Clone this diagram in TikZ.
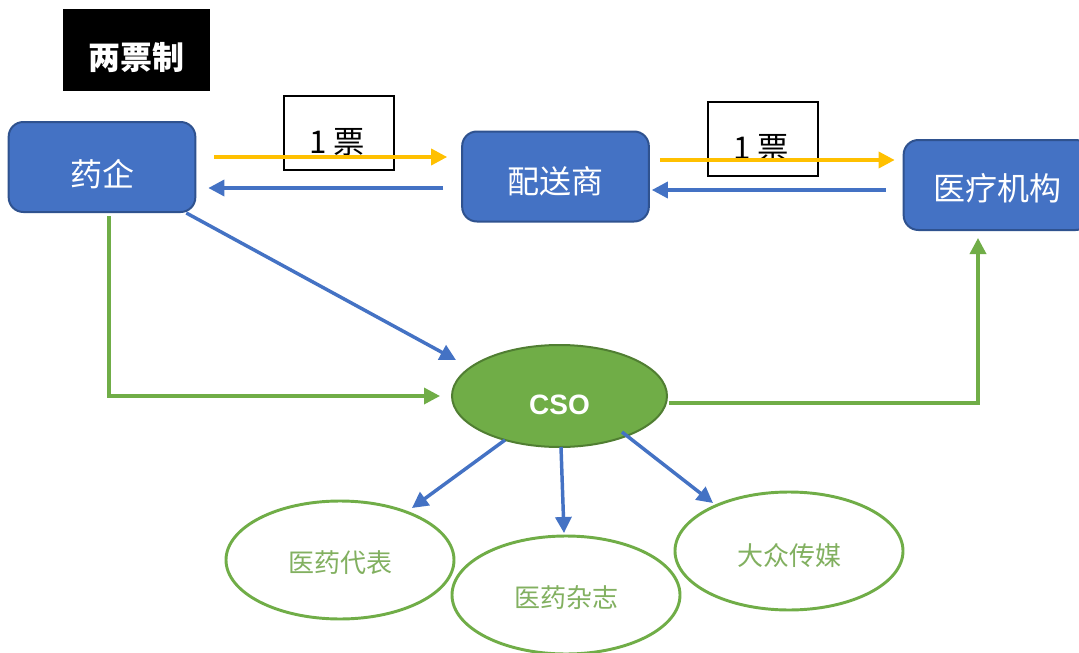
\documentclass[tikz,border=0pt]{standalone}
\usepackage{fontspec}
\newfontfamily\cjk{Noto Sans CJK SC}
\newfontfamily\lsans{Liberation Sans}
\usetikzlibrary{arrows.meta,shapes.geometric,calc}
\definecolor{pblue}{HTML}{4472C4}
\definecolor{pbluedark}{HTML}{2F528F}
\definecolor{pgreen}{HTML}{70AD47}
\definecolor{pgreendark}{HTML}{507E32}
\definecolor{pyellow}{HTML}{FFC000}
\definecolor{ptext}{HTML}{82B060}
\begin{document}
\begin{tikzpicture}[x=0.75pt,y=-0.75pt,
  bluebox/.style={draw=pbluedark,line width=1.5pt,fill=pblue,rounded corners=11pt,
    text=white,font=\cjk\fontsize{24}{26}\selectfont,inner sep=0pt,text depth=0pt,
    minimum width=140pt,minimum height=67.5pt},
  titlebox/.style={fill=black,text=white,font=\cjk\bfseries\fontsize{24}{26}\selectfont,
    inner sep=0pt,text depth=0pt,text height=28.8pt,
    minimum width=110.25pt,minimum height=61.5pt},
  ticketbox/.style={draw=black,line width=2pt,inner sep=0pt,
    minimum width=82.5pt,minimum height=55.5pt},
  ticketlabel/.style={font=\cjk\fontsize{23.5}{26}\selectfont,text=black},
  csonode/.style={ellipse,draw=pgreendark,line width=1.5pt,fill=pgreen,inner sep=0pt,
    minimum width=161.25pt,minimum height=76.5pt},
  leaf/.style={ellipse,draw=pgreen,line width=2.2pt,fill=white,inner sep=0pt,
    text=ptext,font=\cjk\fontsize{19.5}{22}\selectfont,text depth=0pt,text height=19pt,
    minimum width=171pt,minimum height=88.5pt},
  arr/.style={line width=2.6pt,-{Triangle[length=12pt,width=12pt]}},
  yarr/.style={arr,draw=pyellow},
  barr/.style={arr,draw=pblue},
  garr/.style={arr,draw=pgreen},
]
\useasboundingbox[fill=white] (0,0) rectangle (1079,653);

% title
\node[titlebox] (title) at (136.5,50) {两票制};

% main boxes
\node[bluebox,text height=29.8pt] (yq)  at (102,167)   {药企};
\node[bluebox,text height=25.3pt] (pss) at (555.5,176.5) {配送商};
\node[bluebox,text height=23.8pt] (ylj) at (997,185)   {医疗机构};

% ticket boxes
\node[ticketbox,label={[ticketlabel,yshift=-7pt,xshift=-1.5pt,name=t1l]center:1 票}] (t1) at (339,133) {};
\node[ticketbox,label={[ticketlabel,yshift=-7pt,xshift=-1.5pt,name=t2l]center:1 票}] (t2) at (763,139) {};

% CSO
\node[csonode,label={[font=\lsans\bfseries\fontsize{21}{24}\selectfont,text=white,yshift=-6.5pt,name=csol]center:CSO}] (cso) at (559.5,396) {};

% leaves
\node[leaf] (e1) at (340,560) {医药代表};
\node[leaf,text height=18pt] (e2) at (566,595) {医药杂志};
\node[leaf,text height=21pt] (e3) at (789,551) {大众传媒};

% top arrows
\draw[yarr] ($(yq.east)+(18,-10)$) -- ($(pss.west)+(-14,-19.5)$);
\draw[barr] ($(pss.west)+(-18,11.5)$) -- ($(yq.east)+(12,21)$);
\draw[yarr] ($(pss.east)+(10,-16.5)$) -- ($(ylj.west)+(-8,-25)$);
\draw[barr] ($(ylj.west)+(-17,5)$) -- ($(pss.east)+(2,13.5)$);

% to CSO
\draw[barr] ($(yq.south east)+(-10,0)$) -- ($(cso.center)+(-103.5,-36)$);
\draw[garr] ($(yq.south)+(7,3)$) |- ($(cso.west)+(-11,0)$);
\draw[garr] ($(cso.east)+(1,7)$) -| ($(ylj.south)+(-19,7)$);

% from CSO
\draw[barr] ($(cso.center)+(-54.5,44)$) -- ($(e1.center)+(72,-52)$);
\draw[barr] ($(cso.center)+(1.5,51)$) -- ($(e2.center)+(-2,-62)$);
\draw[barr] ($(cso.center)+(62.5,36)$) -- ($(e3.center)+(-76,-48)$);
\end{tikzpicture}
\end{document}
